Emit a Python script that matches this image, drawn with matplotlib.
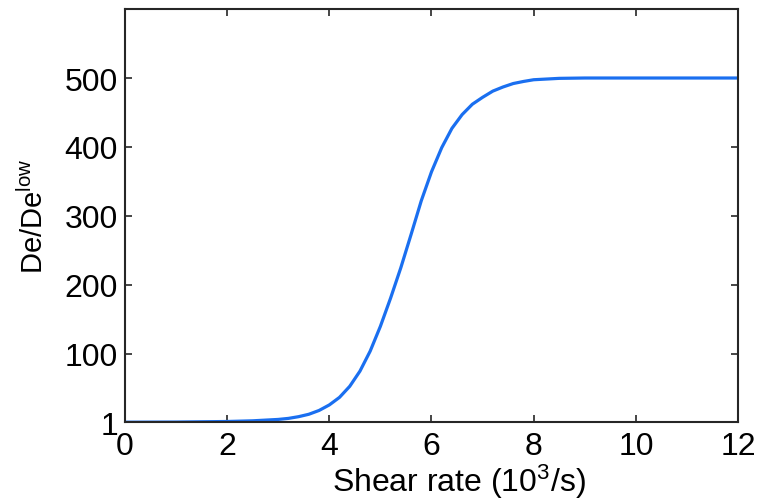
import matplotlib
matplotlib.use("Agg")
import matplotlib.pyplot as plt

plt.rcParams['font.family'] = ['Liberation Sans', 'DejaVu Sans']
plt.rcParams['mathtext.default'] = 'regular'

# values
shear_rate = [0, 1, 2, 2.5, 3.0, 3.2, 3.4, 3.6, 3.8, 4.0, 4.2, 4.4, 4.6, 4.8,
              5.0, 5.2, 5.4, 5.6, 5.8, 6.0, 6.2, 6.4, 6.6, 6.8, 7.0, 7.2,
              7.4, 7.6, 7.8, 8.0, 8.5, 9, 10, 11, 12]
de_ratio = [1, 1.2, 2, 3, 5, 6.5, 9, 12.5, 18, 26, 37, 53, 75, 104,
            140, 181, 225, 273, 322, 364, 399, 427, 447, 462, 472, 481,
            487, 492, 495, 497.5, 499.5, 500, 500, 500, 500]

xticks = [0, 2, 4, 6, 8, 10, 12]
yticks = [1, 100, 200, 300, 400, 500]

fig = plt.figure(figsize=(7.57, 5.02), dpi=100)
ax = fig.add_axes([0.165, 0.157, 0.81, 0.823])

ax.plot(shear_rate, de_ratio, color='#1a6ff0', lw=2.3, solid_joinstyle='round')

ax.set_xlim(0, 12)
ax.set_ylim(1, 600)
ax.set_xticks(xticks)
ax.set_yticks(yticks)
ax.tick_params(direction='in', top=True, right=True, length=5, width=1.2,
               labelsize=23, pad=5, colors='#262626', labelcolor='black')
ax.tick_params(axis='x', pad=6)
for s in ax.spines.values():
    s.set_linewidth(1.5)
    s.set_color('#262626')

ax.set_xlabel('Shear rate (10$^{3}$/s)', fontsize=23)
ax.xaxis.set_label_coords(0.545, -0.096)
ax.set_ylabel('De/De$^{low}$', fontsize=21, labelpad=11)

fig.savefig('out.png', dpi=100, facecolor='white')
